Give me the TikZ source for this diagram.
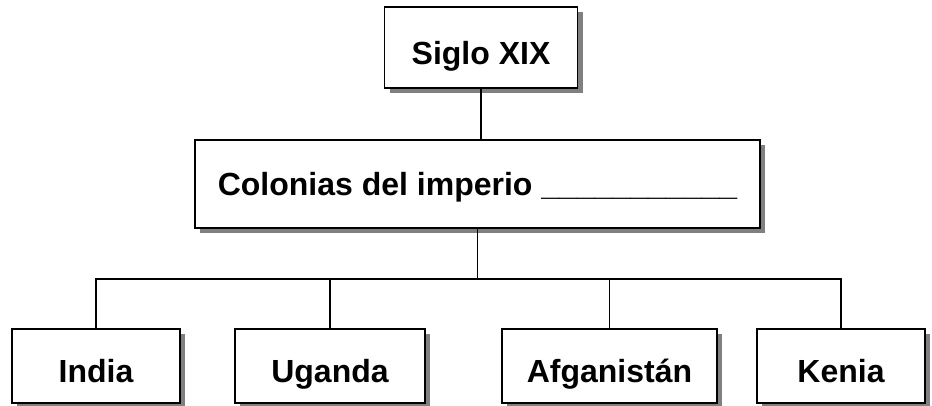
\documentclass[tikz,border=0pt]{standalone}
\usepackage{fontspec}
\setmainfont{Liberation Sans}
\usetikzlibrary{shadows}
\begin{document}
\begin{tikzpicture}[x=1pt,y=-1pt,
  box/.style={draw=black, line width=1.9pt, fill=white, inner sep=0pt,
    text height=33pt, text depth=0pt,
    font=\fontsize{32}{38}\selectfont\bfseries,
    drop shadow={shadow xshift=5pt, shadow yshift=-5pt, fill=black!50, opacity=1}},
  conn/.style={line width=1.9pt}]
\useasboundingbox (0,0) rectangle (932,405);
\node[box, minimum width=193pt, minimum height=81pt] (siglo) at (481,47.5) {Siglo XIX};
\node[box, text height=23pt, minimum width=565pt, minimum height=88pt] (col) at (477.5,184) {Colonias del imperio \_\_\_\_\_\_\_\_\_\_\_};
\node[box, minimum width=168pt, minimum height=74pt] (india) at (96,366) {India};
\node[box, minimum width=190pt, minimum height=74pt] (uganda) at (330,366) {Uganda};
\node[box, minimum width=215pt, minimum height=74pt] (afg) at (609.5,366) {Afganistán};
\node[box, minimum width=168pt, minimum height=74pt] (kenia) at (841,366) {Kenia};
\path (col.south) ++(0,50) coordinate (bus);
\draw[conn] (siglo.south) -- (siglo.south |- col.north);
\draw[conn] (col.south) -- (bus);
\draw[conn] (india.north) |- (bus) -| (kenia.north);
\draw[conn] (uganda.north) -- (uganda.north |- bus);
\draw[conn] (afg.north) -- (afg.north |- bus);
\end{tikzpicture}
\end{document}
